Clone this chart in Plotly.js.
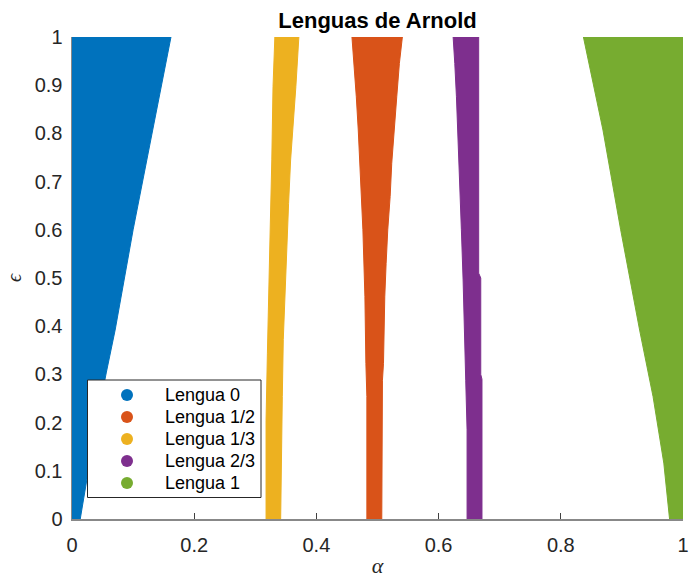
<!DOCTYPE html>
<html>
<head>
<meta charset="utf-8">
<script src="https://cdn.plot.ly/plotly-3.0.1.min.js"></script>
<style>html,body{margin:0;padding:0;background:#fff;}</style>
</head>
<body>
<div id="chart" style="width:689px;height:578px;"></div>
<script>
// Lengua 0 (alpha from 0 to right edge)
const t0EpsL = [0, 1];
const t0L    = [0, 0];
const t0EpsR = [0, 0.06, 0.185, 0.303, 0.392, 0.600, 0.807, 1.0];
const t0R    = [0.0135, 0.022, 0.038, 0.056, 0.0706, 0.100, 0.132, 0.162];

// Lengua 1/2
const t12EpsL = [0, 0.254, 0.323, 0.461, 0.600, 0.738, 0.807, 0.876, 0.945, 1.0];
const t12L    = [0.4826, 0.4826, 0.481, 0.4794, 0.4761, 0.4718, 0.4685, 0.4653, 0.4609, 0.4582];
const t12EpsR = [0, 0.288, 0.323, 0.461, 0.530, 0.600, 0.669, 0.738, 0.807, 0.876, 0.945, 1.0];
const t12R    = [0.507, 0.5081, 0.5098, 0.5119, 0.5141, 0.5168, 0.5207, 0.5233, 0.5272, 0.5315, 0.5358, 0.5407];

// Lengua 1/3
const t13EpsL = [0, 0.205, 0.344, 0.420, 0.503, 0.614, 0.745, 0.897, 1.0];
const t13L    = [0.3176, 0.3176, 0.3198, 0.3214, 0.323, 0.3246, 0.327, 0.329, 0.332];
const t13EpsR = [0, 0.116, 0.254, 0.372, 0.461, 0.544, 0.655, 0.745, 0.897, 1.0];
const t13R    = [0.3415, 0.3426, 0.3442, 0.3458, 0.348, 0.3507, 0.3545, 0.3578, 0.3664, 0.3713];

// Lengua 2/3
const t23EpsL = [0, 0.185, 0.288, 0.392, 0.496, 0.600, 0.703, 0.807, 0.876, 0.945, 1.0];
const t23L    = [0.6466, 0.6466, 0.6444, 0.6428, 0.6401, 0.6373, 0.6347, 0.6314, 0.6292, 0.6265, 0.6238];
const t23EpsR = [0, 0.29, 0.30, 0.50, 0.51, 1.0];
const t23R    = [0.671, 0.671, 0.669, 0.669, 0.6656, 0.6656];

// Lengua 1
const t1EpsL = [0, 0.116, 0.254, 0.392, 0.600, 0.807, 1.0];
const t1L    = [0.978, 0.9686, 0.951, 0.929, 0.898, 0.869, 0.837];
const t1EpsR = [0, 1];
const t1R    = [1, 1];

const names  = ['Lengua 0', 'Lengua 1/2', 'Lengua 1/3', 'Lengua 2/3', 'Lengua 1'];
const colors = ['#0072BD', '#D95319', '#EDB120', '#7E2F8E', '#77AC30'];
const tongues = [
  [t0EpsL, t0L, t0EpsR, t0R],
  [t12EpsL, t12L, t12EpsR, t12R],
  [t13EpsL, t13L, t13EpsR, t13R],
  [t23EpsL, t23L, t23EpsR, t23R],
  [t1EpsL, t1L, t1EpsR, t1R]
];

const xTicks = [0, 0.2, 0.4, 0.6, 0.8, 1];
const yTicks = [0, 0.1, 0.2, 0.3, 0.4, 0.5, 0.6, 0.7, 0.8, 0.9, 1];

const traces = [];
tongues.forEach((t, i) => {
  const [eL, L, eR, R] = t;
  const xs = L.concat(R.slice().reverse());
  const ys = eL.concat(eR.slice().reverse());
  xs.push(L[0]); ys.push(eL[0]);
  traces.push({
    x: xs, y: ys, type: 'scatter', mode: 'lines', fill: 'toself',
    fillcolor: colors[i], line: {color: colors[i], width: 1},
    name: names[i], showlegend: false, hoverinfo: 'skip'
  });
});

// Legend drawn as a boxed key (layout geometry in paper units)
const W = 689, H = 578, ML = 72, MR = 6, MT = 37, MB = 59;
const PW = W - ML - MR, PH = H - MT - MB;
const px = v => (v - ML) / PW;
const py = v => (H - MB - v) / PH;
const legLeft = 87.5, legRight = 261, legTop = 380, legBottom = 497.5;
const rowTop = 395, rowStep = 22, markX = 127, textX = 163;

const shapes = [{
  type: 'rect', xref: 'paper', yref: 'paper',
  x0: px(legLeft), x1: px(legRight), y0: py(legBottom), y1: py(legTop),
  line: {color: '#262626', width: 1}, fillcolor: '#fff', layer: 'above'
}];
const annotations = [];
names.forEach((n, i) => {
  const yc = py(rowTop + i * rowStep);
  shapes.push({
    type: 'circle', xref: 'paper', yref: 'paper',
    xsizemode: 'pixel', ysizemode: 'pixel',
    xanchor: px(markX), yanchor: yc,
    x0: -6, x1: 6, y0: -6, y1: 6,
    fillcolor: colors[i], line: {color: colors[i], width: 0}, layer: 'above'
  });
  annotations.push({
    text: n, xref: 'paper', yref: 'paper', x: px(textX), y: yc,
    xanchor: 'left', yanchor: 'middle', showarrow: false,
    font: {family: 'Liberation Sans, Arial, sans-serif', size: 18, color: '#000'}
  });
});

const font = 'Liberation Sans, Arial, sans-serif';
const layout = {
  width: W, height: H,
  margin: {l: ML, r: MR, t: MT, b: MB},
  paper_bgcolor: '#fff', plot_bgcolor: '#fff',
  showlegend: false,
  shapes: shapes, annotations: annotations,
  title: {text: '<b>Lenguas de Arnold</b>', font: {family: font, size: 22, color: '#000'},
          x: 0.5, xref: 'paper', xanchor: 'center', y: 1 - 20/578, yref: 'container', yanchor: 'middle'},
  xaxis: {
    range: [0, 1], tickvals: xTicks, ticktext: xTicks.map(String),
    ticks: 'inside', ticklen: 6, tickcolor: '#404040', tickwidth: 1,
    showline: true, linecolor: '#888', linewidth: 1.5, showgrid: false, zeroline: false,
    layer: 'below traces', ticklabeloverflow: 'allow',
    tickfont: {family: font, size: 20, color: '#262626'}, ticklabelstandoff: 7,
    title: {text: 'α', font: {family: 'Liberation Serif, serif', size: 22, color: '#262626', style: 'italic'}, standoff: 10}
  },
  yaxis: {
    range: [0, 1], tickvals: yTicks, ticktext: yTicks.map(String),
    ticks: 'inside', ticklen: 6, tickcolor: '#404040', tickwidth: 1,
    showline: true, linecolor: '#888', linewidth: 1.5, showgrid: false, zeroline: false,
    layer: 'below traces', ticklabeloverflow: 'allow',
    tickfont: {family: font, size: 20, color: '#262626'}, ticklabelstandoff: 4,
    title: {text: 'ϵ', font: {family: 'Liberation Serif, serif', size: 20, color: '#262626', style: 'italic'}, standoff: 7}
  }
};

Plotly.newPlot('chart', traces, layout, {displayModeBar: false, staticPlot: true});
</script>
</body>
</html>
